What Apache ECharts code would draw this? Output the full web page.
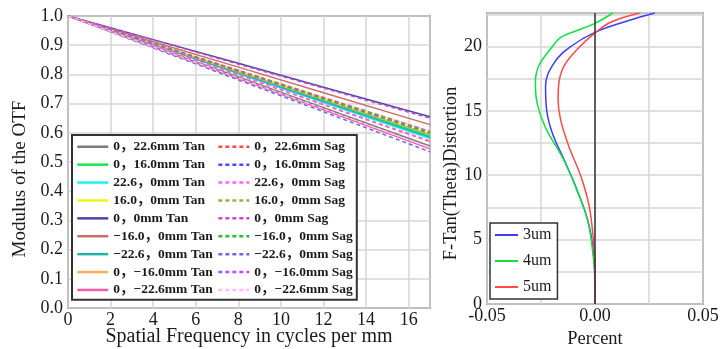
<!DOCTYPE html>
<html>
<head>
<meta charset="utf-8">
<script src="https://cdn.jsdelivr.net/npm/echarts@6/dist/echarts.min.js"></script>
<style>
  html, body { margin: 0; padding: 0; background: #fff; }
  #chart { width: 728px; height: 349px; }
</style>
</head>
<body>
<div id="chart"></div>
<script>
// spatial frequency samples (cycles per mm)
const freq = [0, 4, 8, 12, 17];

// MTF, tangential
const tan_0_226 = [1, 0.895, 0.791, 0.686, 0.555];
const tan_0_160 = [1, 0.904, 0.807, 0.711, 0.59];
const tan_226_0 = [1, 0.901, 0.802, 0.704, 0.58];
const tan_160_0 = [1, 0.907, 0.814, 0.721, 0.605];
const tan_0_0 = [1, 0.919, 0.838, 0.756, 0.655];
const tan_m160_0 = [1, 0.912, 0.825, 0.737, 0.628];
const tan_m226_0 = [1, 0.902, 0.805, 0.707, 0.585];
const tan_0_m160 = [1, 0.905, 0.809, 0.714, 0.595];
const tan_0_m226 = [1, 0.893, 0.786, 0.679, 0.545];

// MTF, sagittal
const sag_0_226 = [1, 0.899, 0.798, 0.696, 0.57];
const sag_0_160 = [1, 0.906, 0.812, 0.718, 0.6];
const sag_226_0 = [1, 0.899, 0.799, 0.698, 0.572];
const sag_160_0 = [1, 0.906, 0.813, 0.719, 0.602];
const sag_0_0 = [1, 0.918, 0.835, 0.753, 0.65];
const sag_m160_0 = [1, 0.905, 0.811, 0.716, 0.598];
const sag_m226_0 = [1, 0.891, 0.781, 0.672, 0.535];
const sag_0_m160 = [1, 0.907, 0.814, 0.721, 0.605];
const sag_0_m226 = [1, 0.894, 0.788, 0.682, 0.55];

// legend names
const tanNames = ["0，22.6mm Tan", "0，16.0mm Tan", "22.6，0mm Tan", "16.0，0mm Tan", "0，0mm Tan",
  "−16.0，0mm Tan", "−22.6，0mm Tan", "0，−16.0mm Tan", "0，−22.6mm Tan"];
const sagNames = ["0，22.6mm Sag", "0，16.0mm Sag", "22.6，0mm Sag", "16.0，0mm Sag", "0，0mm Sag",
  "−16.0，0mm Sag", "−22.6，0mm Sag", "0，−16.0mm Sag", "0，−22.6mm Sag"];
const tanData = [tan_0_226, tan_0_160, tan_226_0, tan_160_0, tan_0_0, tan_m160_0, tan_m226_0, tan_0_m160, tan_0_m226];
const sagData = [sag_0_226, sag_0_160, sag_226_0, sag_160_0, sag_0_0, sag_m160_0, sag_m226_0, sag_0_m160, sag_0_m226];

// F-Tan(Theta) distortion: field height vs percent
const field3um = [0, 2.9, 6.0, 8.9, 11.2, 13.3, 15.1, 16.9, 18.7, 20.0, 21.1, 22.0, 22.6];
const dist3um = [0, -0.0003, -0.0026, -0.0084, -0.0143, -0.0198, -0.0224, -0.0229, -0.019, -0.0112, 0, 0.0153, 0.0277];
const field4um = [0, 2.0, 3.4, 6.5, 9.0, 11.2, 13.8, 15.6, 17.2, 18.5, 19.8, 20.7, 21.2, 21.8, 22.6];
const dist4um = [0, 0, -0.0006, -0.0034, -0.0088, -0.0145, -0.0232, -0.0268, -0.0276, -0.026, -0.0206, -0.0159, -0.009, 0, 0.0083];
const field5um = [0, 3.0, 4.7, 7.6, 9.9, 12.2, 14.3, 15.9, 17.2, 18.5, 19.8, 21.05, 21.9, 22.6];
const dist5um = [0, 0, -0.0006, -0.0027, -0.0065, -0.012, -0.0159, -0.0171, -0.0167, -0.0143, -0.0081, 0, 0.0075, 0.0207];

const tanColors = ["#7a7a7a", "#14e84a", "#22f0f0", "#f4f41c", "#4848a8", "#c8706a", "#22b4a8", "#ffae5a", "#ff5aa8"];
const sagColors = ["#ff4a4a", "#4a4aff", "#ff66ff", "#a8a848", "#c84ac8", "#28c038", "#6a6ae0", "#c050ff", "#ffbcff"];
const distColors = ["#3c3cff", "#10e040", "#ff4848"];

const SERIF = "'Liberation Serif', 'Times New Roman', 'Noto Sans CJK SC', serif";
const TEXT = "#1a1a1a";
const GRID_LINE = { show: true, lineStyle: { color: "#d6d6d6", width: 1.5 } };
const NO_SYMBOL = { color: "transparent", borderColor: "transparent", borderWidth: 0, opacity: 0 };

const chart = echarts.init(document.getElementById("chart"));

const mtfSeries = [];
tanNames.forEach((name, i) => {
  mtfSeries.push({
    name, type: "line", xAxisIndex: 0, yAxisIndex: 0, symbol: "none",
    lineStyle: { color: tanColors[i], width: 1.5 }, itemStyle: { color: tanColors[i] },
    data: freq.map((f, k) => [f, tanData[i][k]]),
  });
});
sagNames.forEach((name, i) => {
  mtfSeries.push({
    name, type: "line", xAxisIndex: 0, yAxisIndex: 0, symbol: "none",
    lineStyle: { color: sagColors[i], width: 1.5, type: [4, 3] }, itemStyle: { color: sagColors[i] },
    data: freq.map((f, k) => [f, sagData[i][k]]),
  });
});

const distSeries = [
  ["3um", field3um, dist3um],
  ["4um", field4um, dist4um],
  ["5um", field5um, dist5um],
].map(([name, field, dist], i) => ({
  name, type: "line", xAxisIndex: 1, yAxisIndex: 1, symbol: "none", smooth: 0.4,
  lineStyle: { color: distColors[i], width: 1.5 }, itemStyle: { color: distColors[i] },
  data: dist.map((d, k) => [d, field[k]]),
}));
// zero line of the distortion plot
distSeries[0].markLine = {
  silent: true, symbol: ["none", "none"], label: { show: false },
  lineStyle: { color: "#333", width: 1.5, type: "solid" },
  data: [{ xAxis: 0 }],
};

const option = {
  animation: false,
  backgroundColor: "#fff",
  grid: [
    { left: 68, top: 16, width: 362, height: 292, outerBoundsMode: "none", show: true, borderColor: "#555", borderWidth: 1.5 },
    { left: 487, top: 13, width: 216, height: 291, outerBoundsMode: "none", show: true, borderColor: "#555", borderWidth: 1.5 },
  ],
  xAxis: [
    {
      gridIndex: 0, type: "value", min: 0, max: 17, interval: 2,
      name: "Spatial Frequency in cycles per mm", nameLocation: "middle", nameGap: 19, nameMoveOverlap: false,
      nameTextStyle: { fontFamily: SERIF, fontSize: 20, color: TEXT },
      axisLine: { show: false }, axisTick: { show: false }, splitLine: GRID_LINE,
      axisLabel: { fontFamily: SERIF, fontSize: 18, color: TEXT, margin: 3, showMaxLabel: false },
    },
    {
      gridIndex: 1, type: "value", min: -0.05, max: 0.05, interval: 0.05,
      name: "Percent", nameLocation: "middle", nameGap: 23,
      nameTextStyle: { fontFamily: SERIF, fontSize: 18.5, color: TEXT },
      axisLine: { show: false }, axisTick: { show: false }, splitLine: GRID_LINE,
      minorTick: { show: false, splitNumber: 2 }, minorSplitLine: GRID_LINE,
      axisLabel: { fontFamily: SERIF, fontSize: 18, color: TEXT, margin: 3, formatter: (v) => v.toFixed(2) },
    },
  ],
  yAxis: [
    {
      gridIndex: 0, type: "value", min: 0, max: 1, interval: 0.1,
      name: "Modulus of the OTF", nameLocation: "middle", nameGap: 38,
      nameTextStyle: { fontFamily: SERIF, fontSize: 19, color: TEXT, padding: [0, 34, 0, 0] },
      axisLine: { show: false }, axisTick: { show: false }, splitLine: GRID_LINE,
      axisLabel: { fontFamily: SERIF, fontSize: 18, color: TEXT, margin: 5, formatter: (v) => v.toFixed(1) },
    },
    {
      gridIndex: 1, type: "value", min: 0, max: 22.6, interval: 5,
      name: "F-Tan(Theta)Distortion", nameLocation: "middle", nameGap: 26,
      nameTextStyle: { fontFamily: SERIF, fontSize: 18.5, color: TEXT, padding: [0, 30, 0, 0] },
      axisLine: { show: false }, axisTick: { show: false }, splitLine: GRID_LINE,
      minorTick: { show: false, splitNumber: 2 }, minorSplitLine: GRID_LINE,
      axisLabel: { fontFamily: SERIF, fontSize: 18, color: TEXT, margin: 5, showMaxLabel: false },
    },
  ],
  legend: [
    {
      data: tanNames.concat(sagNames), orient: "vertical", left: 72, top: 135, height: 166,
      itemWidth: 31, itemHeight: 14, itemGap: 4.4, padding: [5, 4, 3, 4],
      backgroundColor: "#fff", borderColor: "#333", borderWidth: 2,
      lineStyle: { width: 2.5 }, itemStyle: NO_SYMBOL,
      textStyle: { fontFamily: SERIF, fontSize: 13.5, fontWeight: "bold", color: TEXT },
    },
    {
      data: ["3um", "4um", "5um"], orient: "vertical", left: 490, top: 223,
      itemWidth: 23, itemHeight: 14, itemGap: 10, padding: [4, 6, 4, 4],
      backgroundColor: "#fff", borderColor: "#333", borderWidth: 1.5,
      itemStyle: NO_SYMBOL,
      textStyle: { fontFamily: SERIF, fontSize: 16, color: TEXT },
    },
  ],
  series: mtfSeries.concat(distSeries),
};

chart.setOption(option);
</script>
</body>
</html>
